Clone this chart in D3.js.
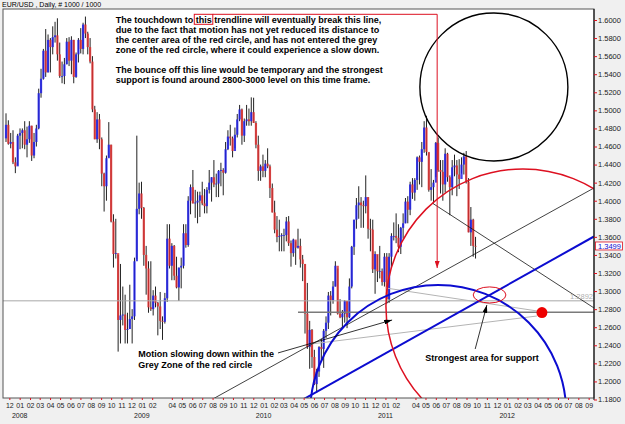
<!DOCTYPE html>
<html>
<head>
<meta charset="utf-8">
<script src="https://cdn.jsdelivr.net/npm/d3@7"></script>
<style>
  body { margin: 0; background: #f0f0f0; }
  svg { display: block; font-family: "Liberation Sans", Arial, sans-serif; }
</style>
</head>
<body>
<div id="chart"></div>
<script>
// ---- data -------------------------------------------------------------
const symbolTitle = 'EUR/USD , Daily, # 1000 / 1000';
const firstWeek = '2007-11-19';   // monday of the first weekly bar
const firstOpen = 1.4690;

// weekly bars [high, low, close], open = previous close
const bars2007 = [
  [1.4967, 1.4650, 1.4840], [1.4890, 1.4620, 1.4630], [1.4750, 1.4580, 1.4650], [1.4780, 1.4405, 1.4425],
  [1.4480, 1.4305, 1.4380], [1.4740, 1.4390, 1.4720], [1.4800, 1.4570, 1.4750]
];
const bars2008 = [
  [1.4800, 1.4580, 1.4780], [1.4880, 1.4570, 1.4620], [1.4820, 1.4480, 1.4680], [1.4880, 1.4640, 1.4830],
  [1.4830, 1.4440, 1.4500], [1.4750, 1.4470, 1.4650], [1.4840, 1.4600, 1.4800], [1.5240, 1.4790, 1.5190],
  [1.5460, 1.5140, 1.5350], [1.5680, 1.5340, 1.5660], [1.5900, 1.5370, 1.5420], [1.5840, 1.5420, 1.5780],
  [1.5800, 1.5420, 1.5700], [1.5930, 1.5620, 1.5810], [1.5980, 1.5750, 1.5830], [1.6019, 1.5550, 1.5620],
  [1.5750, 1.5360, 1.5380], [1.5540, 1.5300, 1.5380], [1.5580, 1.5290, 1.5510], [1.5800, 1.5510, 1.5760],
  [1.5810, 1.5490, 1.5550], [1.5820, 1.5400, 1.5780], [1.5780, 1.5300, 1.5370], [1.5640, 1.5360, 1.5620],
  [1.5800, 1.5530, 1.5780], [1.5910, 1.5630, 1.5680], [1.5970, 1.5620, 1.5950], [1.6038, 1.5800, 1.5850],
  [1.5870, 1.5620, 1.5700], [1.5800, 1.5520, 1.5540], [1.5600, 1.4980, 1.5010], [1.5050, 1.4680, 1.4680],
  [1.4980, 1.4640, 1.4900], [1.4960, 1.4570, 1.4680], [1.4700, 1.4160, 1.4300], [1.4310, 1.3880, 1.4160],
  [1.4500, 1.4000, 1.4470], [1.4870, 1.4480, 1.4620], [1.4620, 1.3760, 1.3770], [1.3850, 1.3260, 1.3410],
  [1.3800, 1.3360, 1.3420], [1.3400, 1.2330, 1.2680], [1.3300, 1.2420, 1.2730], [1.3050, 1.2620, 1.2740],
  [1.2960, 1.2420, 1.2570], [1.2760, 1.2420, 1.2580], [1.3070, 1.2580, 1.2690], [1.2800, 1.2420, 1.2720],
  [1.3370, 1.2680, 1.3330], [1.4720, 1.3350, 1.3910], [1.4200, 1.3850, 1.4080], [1.4210, 1.3800, 1.3920]
];
const bars2009 = [
  [1.3930, 1.3280, 1.3400], [1.3500, 1.2960, 1.3250], [1.3330, 1.2760, 1.2820], [1.3330, 1.2780, 1.2800],
  [1.3010, 1.2730, 1.2950], [1.3050, 1.2820, 1.2870], [1.2880, 1.2510, 1.2830], [1.2990, 1.2580, 1.2670],
  [1.2720, 1.2460, 1.2660], [1.2980, 1.2640, 1.2920], [1.3740, 1.2880, 1.3580], [1.3740, 1.3250, 1.3280],
  [1.3530, 1.3120, 1.3500], [1.3510, 1.3120, 1.3170], [1.3380, 1.3030, 1.3040], [1.3260, 1.2890, 1.3260],
  [1.3370, 1.3030, 1.3280], [1.3740, 1.3250, 1.3640], [1.3740, 1.3480, 1.3510], [1.4050, 1.3490, 1.4000],
  [1.4180, 1.3850, 1.4150], [1.4340, 1.3970, 1.3970], [1.4120, 1.3810, 1.3980], [1.4100, 1.3750, 1.4000],
  [1.4100, 1.3820, 1.4060], [1.4210, 1.3950, 1.3970], [1.4130, 1.3860, 1.3940], [1.4150, 1.3860, 1.4120],
  [1.4340, 1.4080, 1.4200], [1.4260, 1.3990, 1.4260], [1.4450, 1.4150, 1.4180], [1.4300, 1.4040, 1.4190],
  [1.4340, 1.4040, 1.4330], [1.4420, 1.4160, 1.4340], [1.4360, 1.4060, 1.4310], [1.4650, 1.4300, 1.4570],
  [1.4780, 1.4560, 1.4710], [1.4840, 1.4610, 1.4690], [1.4710, 1.4480, 1.4550], [1.4810, 1.4580, 1.4730],
  [1.4960, 1.4700, 1.4900], [1.5060, 1.4880, 1.5010], [1.5020, 1.4620, 1.4720], [1.4910, 1.4650, 1.4880],
  [1.5060, 1.4830, 1.4900], [1.5020, 1.4830, 1.4880], [1.5144, 1.4830, 1.4980], [1.5140, 1.4860, 1.4860],
  [1.4880, 1.4580, 1.4620], [1.4720, 1.4220, 1.4330], [1.4400, 1.4220, 1.4380], [1.4510, 1.4260, 1.4330]
];
const bars2010 = [
  [1.4450, 1.4260, 1.4410], [1.4580, 1.4360, 1.4380], [1.4400, 1.4030, 1.4140], [1.4190, 1.3870, 1.3870],
  [1.4000, 1.3640, 1.3680], [1.3830, 1.3540, 1.3600], [1.3790, 1.3440, 1.3610], [1.3640, 1.3440, 1.3620],
  [1.3690, 1.3440, 1.3620], [1.3820, 1.3550, 1.3770], [1.3830, 1.3500, 1.3530], [1.3560, 1.3270, 1.3420],
  [1.3580, 1.3380, 1.3570], [1.3550, 1.3290, 1.3480], [1.3690, 1.3470, 1.3500], [1.3580, 1.3260, 1.3350],
  [1.3400, 1.3110, 1.3300], [1.3300, 1.2530, 1.2750], [1.3090, 1.2360, 1.2380], [1.2670, 1.2140, 1.2570],
  [1.2580, 1.2150, 1.2270], [1.2350, 1.1960, 1.1970], [1.2140, 1.1876, 1.2110], [1.2390, 1.2050, 1.2380],
  [1.2470, 1.2220, 1.2360], [1.2580, 1.2150, 1.2560], [1.2720, 1.2480, 1.2650], [1.2990, 1.2580, 1.2950],
  [1.3000, 1.2730, 1.2900], [1.3110, 1.2860, 1.3050], [1.3330, 1.3050, 1.3280], [1.3250, 1.2740, 1.2750],
  [1.2910, 1.2700, 1.2710], [1.2790, 1.2590, 1.2750], [1.2900, 1.2650, 1.2890], [1.2890, 1.2590, 1.2710],
  [1.3140, 1.2700, 1.3050], [1.3500, 1.3030, 1.3490], [1.3790, 1.3400, 1.3790], [1.4030, 1.3690, 1.3950],
  [1.4160, 1.3800, 1.3980], [1.4040, 1.3700, 1.3950], [1.4000, 1.3700, 1.3940], [1.4280, 1.3860, 1.4040],
  [1.4040, 1.3580, 1.3690], [1.3800, 1.3440, 1.3680], [1.3790, 1.3200, 1.3240], [1.3440, 1.2970, 1.3410],
  [1.3400, 1.3100, 1.3220], [1.3500, 1.3140, 1.3220], [1.3250, 1.3060, 1.3100], [1.3420, 1.3050, 1.3380]
];
const bars2011 = [
  [1.3420, 1.2860, 1.2910], [1.3420, 1.2870, 1.3380], [1.3640, 1.3260, 1.3610], [1.3760, 1.3560, 1.3610],
  [1.3860, 1.3530, 1.3590], [1.3740, 1.3430, 1.3490], [1.3710, 1.3410, 1.3700], [1.3860, 1.3580, 1.3750],
  [1.4030, 1.3750, 1.3990], [1.4050, 1.3750, 1.3900], [1.4210, 1.3840, 1.4180], [1.4250, 1.4020, 1.4090],
  [1.4250, 1.4000, 1.4230], [1.4490, 1.4120, 1.4480], [1.4500, 1.4180, 1.4430], [1.4650, 1.4150, 1.4570],
  [1.4880, 1.4530, 1.4810], [1.4940, 1.4500, 1.4540], [1.4530, 1.4100, 1.4120], [1.4350, 1.4000, 1.4150],
  [1.4230, 1.3970, 1.4200], [1.4650, 1.4260, 1.4640], [1.4700, 1.4320, 1.4340], [1.4450, 1.4080, 1.4320],
  [1.4450, 1.4000, 1.4180], [1.4580, 1.4090, 1.4520], [1.4530, 1.4210, 1.4260], [1.4280, 1.3840, 1.4150],
  [1.4450, 1.4060, 1.4370], [1.4510, 1.4270, 1.4390], [1.4450, 1.4050, 1.4290], [1.4460, 1.4130, 1.4240],
  [1.4480, 1.4300, 1.4400], [1.4530, 1.4290, 1.4490], [1.4550, 1.4190, 1.4210], [1.4250, 1.3650, 1.3650],
  [1.3930, 1.3500, 1.3790], [1.3800, 1.3380, 1.3500], [1.3600, 1.3360, 1.3499]
];

const priceTicks = [1.18, 1.20, 1.22, 1.24, 1.26, 1.28, 1.30, 1.32, 1.34, 1.36, 1.38, 1.40,
                    1.42, 1.44, 1.46, 1.48, 1.50, 1.52, 1.54, 1.56, 1.58, 1.60];
const skippedMonths = ['2009-03', '2011-03'];
const yearLabels = [2008, 2009, 2010, 2011, 2012];
const lastPrice = 1.3499;
const levelPrice = 1.2892;

// drawn objects, in [date, price]
const longTrend = [['2009-08-02', 1.1806], ['2012-09-17', 1.4141]];
const fallingTrend = [['2011-05-21', 1.3975], ['2012-09-17', 1.2813]];
const blueTrend = [['2010-05-02', 1.1806], ['2012-09-17', 1.3604]];
const greyUpper = [['2011-01-02', 1.3034], ['2012-03-30', 1.2780]];
const greyLower = [['2010-05-23', 1.2414], ['2012-03-30', 1.2724]];
const supportLine = [['2010-04-14', 1.2765], ['2012-09-17', 1.2765]];
const blackCircle = { at: ['2011-11-22', 1.5259], radius: 0.0819 };
const redCircle = { at: ['2012-02-17', 1.2835], radius: 0.1516 };
const blueCircle = { at: ['2011-06-08', 1.1651], radius: 0.1417 };
const supportZone = { at: ['2011-11-09', 1.2957], days: 49, height: 0.0089 };
const supportDot = ['2012-04-14', 1.2762];
const redArrowTip = ['2011-06-05', 1.3255];
const motionArrow = [['2010-02-13', 1.2315], ['2011-01-21', 1.2680]];
const supportArrow = [['2011-09-27', 1.2359], ['2011-11-01', 1.2846]];

const noteAt = ['2008-10-15', 1.5969];
const noteLines = [
  'The touchdown to this trendline will eventually break this line,',
  'due to the fact that motion has not yet reduced its distance to',
  'the center area of the red circle, and has not entered the grey',
  'zone of the red circle, where it could experience a slow down.',
  '',
  'The bounce off this line would be temporary and the strongest',
  'support is found around 2800-3000 level on this time frame.'
];
const motionAt = ['2008-12-21', 1.2265];
const motionLines = ['Motion slowing down within the', 'Grey Zone of the red circle'];
const supportTextAt = ['2011-04-30', 1.2221];
const supportText = 'Strongest area for support';

// ---- layout -----------------------------------------------------------
const W = 625, H = 424;
const plot = { left: 3, right: 594, top: 9, bottom: 398 };
const RED = '#dd1020', BLUE = '#0c0cd0';

const day = d3.utcParse('%Y-%m-%d');
const x = d3.scaleUtc()
    .domain([day('2007-11-12'), day('2012-09-17')])
    .range([plot.left, plot.right]);
const y = d3.scaleLinear()
    .domain([1.18, 1.60])
    .range([399.5, 20]);
const px = p => [x(day(p[0])), y(p[1])];

const svg = d3.select('#chart').append('svg')
    .attr('width', W)
    .attr('height', H);

svg.append('rect').attr('width', W).attr('height', H).attr('fill', '#f0f0f0');
svg.append('rect')
    .attr('x', plot.left).attr('y', plot.top)
    .attr('width', plot.right - plot.left).attr('height', plot.bottom - plot.top)
    .attr('fill', '#fff');

const defs = svg.append('defs');
defs.append('clipPath').attr('id', 'plotClip')
    .append('rect')
    .attr('x', plot.left).attr('y', plot.top)
    .attr('width', plot.right - plot.left).attr('height', plot.bottom - plot.top);

function addMarker(id, color, w, h) {
    defs.append('marker')
        .attr('id', id)
        .attr('viewBox', `0 0 ${w} ${h}`)
        .attr('refX', w).attr('refY', h / 2)
        .attr('markerWidth', w).attr('markerHeight', h)
        .attr('markerUnits', 'userSpaceOnUse')
        .attr('orient', 'auto')
        .append('path')
        .attr('d', `M0,0L${w},${h / 2}L0,${h}Z`)
        .attr('fill', color);
}
addMarker('arrowBlack', '#000', 8, 5);
addMarker('arrowRed', RED, 7, 5);

svg.append('text')
    .attr('x', 2).attr('y', 7)
    .attr('font-size', 7)
    .attr('fill', '#000')
    .text(symbolTitle);

// ---- candles ----------------------------------------------------------
const rows = [...bars2007, ...bars2008, ...bars2009, ...bars2010, ...bars2011];
const bars = rows.map((b, i) => ({
    date: d3.utcDay.offset(day(firstWeek), i * 7 + 2),
    high: b[0], low: b[1], close: b[2],
    open: i ? rows[i - 1][2] : firstOpen
}));

const chart = svg.append('g').attr('clip-path', 'url(#plotClip)');
const candles = chart.append('g');

candles.selectAll('line')
    .data(bars)
    .join('line')
    .attr('x1', d => x(d.date)).attr('x2', d => x(d.date))
    .attr('y1', d => y(d.high)).attr('y2', d => y(d.low))
    .attr('stroke', '#222')
    .attr('stroke-width', 1);

candles.selectAll('rect')
    .data(bars)
    .join('rect')
    .attr('x', d => x(d.date) - 1.1)
    .attr('width', 2.2)
    .attr('y', d => y(Math.max(d.open, d.close)))
    .attr('height', d => Math.max(0.8, Math.abs(y(d.open) - y(d.close))))
    .attr('fill', d => d.close >= d.open ? '#2020e8' : '#de3030')
    .attr('opacity', 0.85);

// ---- drawn objects ----------------------------------------------------
function segment(pts, color, width) {
    const a = px(pts[0]), b = px(pts[1]);
    return chart.append('line')
        .attr('x1', a[0]).attr('y1', a[1])
        .attr('x2', b[0]).attr('y2', b[1])
        .attr('stroke', color)
        .attr('stroke-width', width);
}

function circle(c, color, width) {
    const [cx, cy] = px(c.at);
    chart.append('circle')
        .attr('cx', cx).attr('cy', cy)
        .attr('r', y(c.at[1] - c.radius) - cy)
        .attr('fill', 'none')
        .attr('stroke', color)
        .attr('stroke-width', width);
}

// horizontal level with its label
chart.append('line')
    .attr('x1', plot.left).attr('x2', plot.right)
    .attr('y1', y(levelPrice)).attr('y2', y(levelPrice))
    .attr('stroke', '#a8a8a8')
    .attr('stroke-width', 1);
svg.append('text')
    .attr('x', plot.right - 1).attr('y', y(levelPrice) - 1.5)
    .attr('text-anchor', 'end')
    .attr('font-size', 7.5)
    .attr('fill', '#b0b0b0')
    .text(d3.format('.4f')(levelPrice));

segment(supportLine, '#7a7a7a', 1.6);
segment(greyUpper, '#b4b4b4', 1);
segment(greyLower, '#b4b4b4', 1);
segment(longTrend, '#111', 0.8);
segment(fallingTrend, '#111', 0.8);
segment(blueTrend, BLUE, 2);

circle(blackCircle, '#000', 1.4);
circle(redCircle, RED, 1.5);
circle(blueCircle, BLUE, 2);

{
    const [cx, cy] = px(supportZone.at);
    chart.append('ellipse')
        .attr('cx', cx).attr('cy', cy)
        .attr('rx', x(d3.utcDay.offset(day(supportZone.at[0]), supportZone.days)) - cx)
        .attr('ry', y(supportZone.at[1] - supportZone.height) - cy)
        .attr('fill', 'none')
        .attr('stroke', RED)
        .attr('stroke-width', 1);

    const [dx, dy] = px(supportDot);
    chart.append('circle')
        .attr('cx', dx).attr('cy', dy).attr('r', 5.5)
        .attr('fill', '#ee0000');
}

segment(motionArrow, '#000', 0.8).attr('marker-end', 'url(#arrowBlack)');
segment(supportArrow, '#000', 0.8).attr('marker-end', 'url(#arrowBlack)');

// ---- texts ------------------------------------------------------------
const notes = svg.append('g')
    .attr('font-size', 9)
    .attr('font-weight', 'bold')
    .attr('fill', '#000');

const [noteX, noteY] = px(noteAt);
const noteNodes = noteLines.map((t, i) => notes.append('text')
    .attr('x', noteX)
    .attr('y', noteY + i * 10.1)
    .text(t));

// red box round "this" and the arrow down to the trendline
{
    const node = noteNodes[0].node();
    const k = noteLines[0].indexOf('this');
    const x0 = node.getStartPositionOfChar(k).x - 1.5;
    const x1 = node.getEndPositionOfChar(k + 3).x + 1;
    const top = noteY - 8.5, bottom = noteY + 1.5;
    svg.append('rect')
        .attr('x', x0).attr('y', top)
        .attr('width', x1 - x0).attr('height', bottom - top)
        .attr('fill', 'none')
        .attr('stroke', RED)
        .attr('stroke-width', 1);
    const [tx, ty] = px(redArrowTip);
    svg.append('path')
        .attr('d', `M${x1},${top}H${tx}V${ty}`)
        .attr('fill', 'none')
        .attr('stroke', RED)
        .attr('stroke-width', 1)
        .attr('marker-end', 'url(#arrowRed)');
}

const [mX, mY] = px(motionAt);
motionLines.forEach((t, i) => notes.append('text')
    .attr('x', mX).attr('y', mY + i * 10.8)
    .text(t));

const [sX, sY] = px(supportTextAt);
notes.append('text').attr('x', sX).attr('y', sY).text(supportText);

// ---- frame and axes ---------------------------------------------------
svg.append('rect')
    .attr('x', plot.left).attr('y', plot.top)
    .attr('width', plot.right - plot.left).attr('height', plot.bottom - plot.top)
    .attr('fill', 'none')
    .attr('stroke', '#555')
    .attr('stroke-width', 1);
svg.append('line')
    .attr('x1', plot.right).attr('x2', plot.right)
    .attr('y1', plot.top).attr('y2', 400)
    .attr('stroke', '#000');

const priceAxis = svg.append('g')
    .attr('transform', `translate(${plot.right},0)`)
    .call(d3.axisRight(y).tickValues(priceTicks).tickFormat(d3.format('.4f')).tickSize(3).tickPadding(1))
    .call(g => g.select('.domain').remove());
priceAxis.attr('font-family', null).attr('font-size', 7.5);
priceAxis.selectAll('line').attr('stroke', RED);
priceAxis.selectAll('text').attr('fill', '#222');

// last price box
{
    const ly = y(lastPrice);
    svg.append('rect')
        .attr('x', plot.right + 1.5).attr('y', ly - 4)
        .attr('width', 27).attr('height', 8)
        .attr('fill', '#fff')
        .attr('stroke', RED)
        .attr('stroke-width', 0.8);
    svg.append('text')
        .attr('x', plot.right + 4).attr('y', ly + 2.7)
        .attr('font-size', 7.5)
        .attr('fill', BLUE)
        .text(d3.format('.4f')(lastPrice));
}

const months = d3.utcMonth.range(day('2007-12-01'), day('2012-10-01'))
    .filter(d => !skippedMonths.includes(d3.utcFormat('%Y-%m')(d)));
const timeAxis = svg.append('g')
    .attr('transform', `translate(0,${plot.bottom})`)
    .call(d3.axisBottom(x).tickValues(months).tickFormat(d3.utcFormat('%m')).tickSize(2).tickPadding(3))
    .call(g => g.select('.domain').remove());
timeAxis.attr('font-family', null).attr('font-size', 7);
timeAxis.selectAll('line').attr('stroke', RED);
timeAxis.selectAll('text').attr('fill', '#222');

svg.append('g')
    .attr('font-size', 7)
    .attr('fill', '#222')
    .attr('text-anchor', 'middle')
    .selectAll('text')
    .data(yearLabels)
    .join('text')
    .attr('x', d => x(new Date(Date.UTC(d, 0, 1))))
    .attr('y', 418)
    .text(d => d);
</script>
</body>
</html>
